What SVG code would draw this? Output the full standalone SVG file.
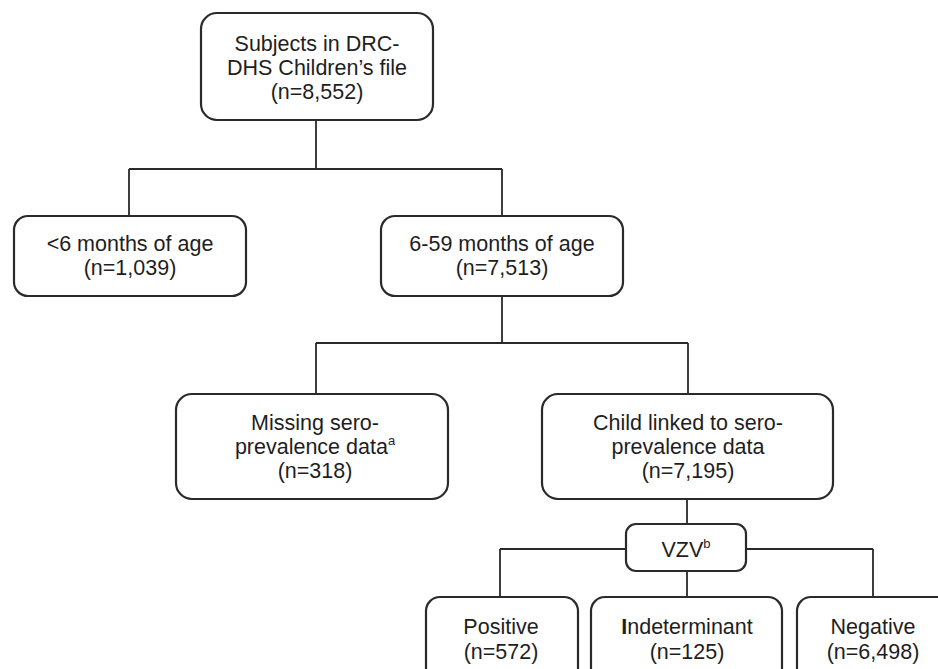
<svg xmlns="http://www.w3.org/2000/svg" width="938" height="669" viewBox="0 0 938 669">
<style>
.box{fill:#fff;stroke:#2a2a2a;stroke-width:2.2}
.t{font-family:"Liberation Sans",Arial,sans-serif;font-size:21.5px;fill:#1e1e1e;text-anchor:middle}
.sup{font-size:13px}
.c{fill:none;stroke:#2a2a2a;stroke-width:1.8}
</style>
<rect width="938" height="669" fill="#fff"/>
<g id="connectors">
<path class="c" d="M316 120V169M129 169H502M129 169V216M502 169V216"/>
<path class="c" d="M502 296V343M316 343H688M316 343V394M688 343V394"/>
<path class="c" d="M687 500V524M687 571V597M500 549H626M746 549H873M500 549V597M873 549V597"/>
</g>
<g id="n_subjects">
<rect class="box" x="201" y="13" width="232" height="107" rx="16"/>
<text class="t" x="317" y="51">Subjects in DRC-</text>
<text class="t" x="317" y="75">DHS Children’s file</text>
<text class="t" x="317" y="99">(n=8,552)</text>
</g>
<g id="n_lt6">
<rect class="box" x="14" y="216" width="232" height="80" rx="14"/>
<text class="t" x="130" y="251">&lt;6 months of age</text>
<text class="t" x="130" y="275">(n=1,039)</text>
</g>
<g id="n_6to59">
<rect class="box" x="381" y="216" width="242" height="80" rx="14"/>
<text class="t" x="502" y="251">6-59 months of age</text>
<text class="t" x="502" y="275">(n=7,513)</text>
</g>
<g id="n_missing">
<rect class="box" x="176" y="394" width="272" height="105" rx="16"/>
<text class="t" x="315" y="430">Missing sero-</text>
<text class="t" x="315" y="454">prevalence data<tspan class="sup" dy="-9">a</tspan></text>
<text class="t" x="315" y="478">(n=318)</text>
</g>
<g id="n_linked">
<rect class="box" x="542" y="394" width="291" height="105" rx="16"/>
<text class="t" x="688" y="430">Child linked to sero-</text>
<text class="t" x="688" y="454">prevalence data</text>
<text class="t" x="688" y="478">(n=7,195)</text>
</g>
<g id="n_vzv">
<rect class="box" x="626" y="524" width="120" height="47" rx="10"/>
<text class="t" x="686" y="557">VZV<tspan class="sup" dy="-9">b</tspan></text>
</g>
<g id="n_pos">
<rect class="box" x="426" y="597" width="152" height="95" rx="14"/>
<text class="t" x="501" y="634">Positive</text>
<text class="t" x="501" y="659">(n=572)</text>
</g>
<g id="n_indet">
<rect class="box" x="591" y="597" width="191" height="95" rx="14"/>
<text class="t" x="687" y="634"><tspan font-weight="bold">I</tspan>ndeterminant</text>
<text class="t" x="687" y="659">(n=125)</text>
</g>
<g id="n_neg">
<rect class="box" x="797" y="597" width="160" height="95" rx="14"/>
<text class="t" x="873" y="634">Negative</text>
<text class="t" x="873" y="659">(n=6,498)</text>
</g>
</svg>
